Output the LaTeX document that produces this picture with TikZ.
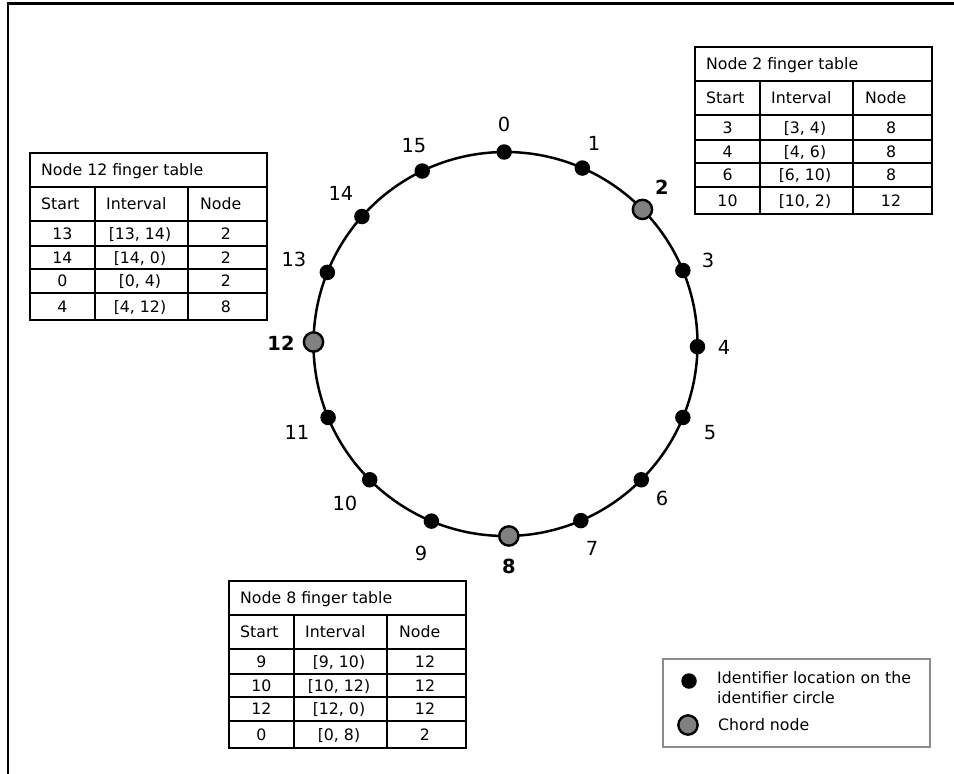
\documentclass[tikz,border=0pt]{standalone}
\usepackage{fontspec}
\setmainfont{DejaVu Sans}
\definecolor{chordgray}{RGB}{128,128,128}
\definecolor{legendgray}{RGB}{140,140,140}

\tikzset{
  ring/.style={line width=2.5bp},
  idpt/.style={circle, fill=black, inner sep=0, minimum size=15.5bp},
  chordpt/.style={circle, fill=chordgray, draw=black, line width=2.4bp, inner sep=0, minimum size=19.3bp},
  numlbl/.style={inner sep=0, font=\fontsize{19.5}{22}\selectfont},
  chordlbl/.style={inner sep=0, font=\fontsize{19.5}{22}\selectfont\bfseries},
  gridline/.style={line width=2bp},
  cell/.style={inner sep=0, text height=11.5bp, text depth=0bp, font=\fontsize{15.8}{18}\selectfont},
  legendbox/.style={draw=legendgray, line width=1.6bp},
  frameline/.style={line width=2.6bp}
}

% Finger table: #1 name prefix, #2 top-left corner, #3 title, #4 rows start/interval/node/y
\newcommand\fingertable[4]{%
  \begin{scope}[shift={#2}]
    \draw[gridline] (0,0) rectangle (237,167);
    \foreach \yy in {34,68,93,116,140} \draw[gridline] (0,\yy) -- (237,\yy);
    \foreach \xx in {65,158} \draw[gridline] (\xx,34) -- (\xx,167);
    \node[cell, anchor=west] (#1title) at (11,17) {#3};
    \node[cell, anchor=west] (#1hs) at (11,51) {Start};
    \node[cell, anchor=west] (#1hi) at (76,51) {Interval};
    \node[cell, anchor=west] (#1hn) at (170,51) {Node};
    \foreach \s/\i/\n/\yy [count=\r] in {#4} {
      \node[cell] (#1s\r) at (32.5,\yy) {\s};
      \node[cell] (#1i\r) at (110,\yy) {\i};
      \node[cell] (#1n\r) at (196,\yy) {\n};
    }
  \end{scope}%
}

\begin{document}
\begin{tikzpicture}[x=1bp, y=-1bp]
  \useasboundingbox (0,0) rectangle (954,774);

  % outer frame (left and top edges)
  \draw[frameline] (8,780) -- (8,3.5) -- (960,3.5);

  % identifier circle
  \coordinate (c) at (505.5,344);
  \draw[ring] (c) circle [radius=192];

  % identifier locations (angle on the circle for each identifier)
  \foreach \k/\a in {0/-90.4,1/-66.4,3/-22.5,4/0.8,5/22.5,6/45,7/66.9,9/112.7,10/135,11/157.5,13/201.9,14/221.6,15/244.3}
    \node[idpt] (p\k) at ([shift={(\a:192)}]c) {};
  \foreach \k/\a in {2/-44.5,8/89,12/180.6}
    \node[chordpt] (p\k) at ([shift={(\a:192)}]c) {};

  % identifier numbers
  \foreach \k/\x/\y in {0/504/124,1/594/143,3/708/260,4/724/347,5/710/433,6/662/498,7/592/548,9/421/553,10/345/503,11/297/432,13/294/259,14/341/193,15/414/146}
    \node[numlbl] (l\k) at (\x,\y) {\k};
  \foreach \k/\x/\y in {2/662/187,8/509/566,12/281/343}
    \node[chordlbl] (l\k) at (\x,\y) {\k};

  % finger tables
  \fingertable{tb}{(695,47)}{Node 2 finger table}{3/{[3, 4)}/8/80.5, 4/{[4, 6)}/8/104.5, 6/{[6, 10)}/8/128, 10/{[10, 2)}/12/153.5}
  \fingertable{tl}{(30,153)}{Node 12 finger table}{13/{[13, 14)}/2/80.5, 14/{[14, 0)}/2/104.5, 0/{[0, 4)}/2/128, 4/{[4, 12)}/8/153.5}
  \fingertable{tm}{(229,581)}{Node 8 finger table}{9/{[9, 10)}/12/80.5, 10/{[10, 12)}/12/104.5, 12/{[12, 0)}/12/128, 0/{[0, 8)}/2/153.5}

  % legend
  \node[legendbox, anchor=north west, inner sep=0, minimum width=267bp, minimum height=88bp] (legend) at (662,658) {};
  \node[idpt] (legdot) at (689,681) {};
  \node[chordpt] (legchord) at (688,725) {};
  \node[cell, anchor=west] (legt1) at (717,678) {Identifier location on the};
  \node[cell, anchor=west] (legt2) at (717,698) {identifier circle};
  \node[cell, anchor=west] (legt3) at (718,725) {Chord node};
\end{tikzpicture}
\end{document}
